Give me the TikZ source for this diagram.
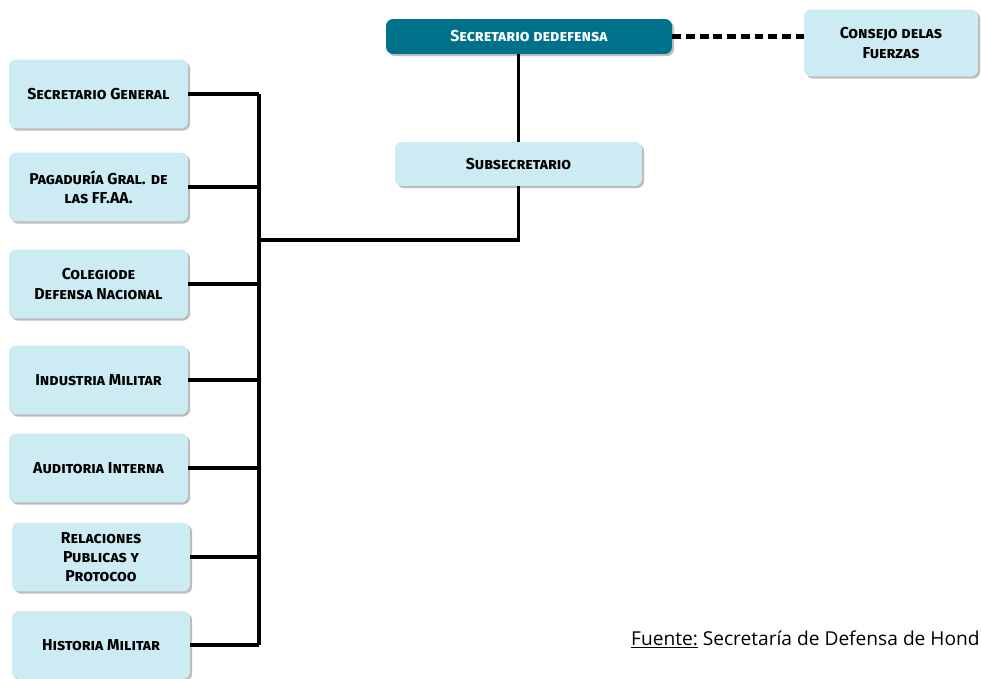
\documentclass[tikz,border=0pt]{standalone}
\usepackage{fontspec}
\setsansfont{Fira Sans}
\newfontfamily\notafont{Open Sans}
\usetikzlibrary{shadows}
\definecolor{celeste}{HTML}{CDEBF2}
\definecolor{petroleo}{HTML}{00718A}
\definecolor{sombra}{HTML}{BDBDBD}
\tikzset{every picture/.style={/utils/exec={\sffamily}}}
\tikzset{
	unidad/.style={fill=celeste, rounded corners=4pt, align=center,
		font=\fontsize{9}{11}\selectfont\bfseries\scshape,
		drop shadow={shadow xshift=1.2pt, shadow yshift=-1.2pt, fill=sombra, opacity=1}},
	jefe/.style={unidad, fill=petroleo, text=white},
	linea/.style={line width=2pt},
	enlace/.style={line width=2.4pt, dash pattern=on 5pt off 2.8pt}
}

\begin{document}
\begin{tikzpicture}[x=0.02cm, y=-0.02cm]
		\useasboundingbox (0,0) rectangle (981,679);

		% mando superior
		\node[jefe, minimum width=5.72cm, minimum height=0.7cm] (secdef) at (529,36.5) {Secretario dedefensa};
		\node[unidad, minimum width=3.48cm, minimum height=1.34cm] (consejo) at (891,43) {Consejo delas\\Fuerzas};
		\node[unidad, minimum width=4.94cm, minimum height=0.88cm] (subsec) at (518.5,164) {Subsecretario};

		% dependencias
		\node[unidad, minimum width=3.58cm, minimum height=1.38cm] (secgen) at (98.5,94) {Secretario General};
		\node[unidad, minimum width=3.58cm, minimum height=1.38cm] (pagaduria) at (98.5,187) {Pagaduría Gral. de\\las FF.AA.};
		\node[unidad, minimum width=3.58cm, minimum height=1.38cm] (colegio) at (98.5,284) {Colegiode\\Defensa Nacional};
		\node[unidad, minimum width=3.58cm, minimum height=1.38cm] (industria) at (98.5,380) {Industria Militar};
		\node[unidad, minimum width=3.58cm, minimum height=1.38cm] (auditoria) at (98.5,468) {Auditoria Interna};
		\node[unidad, minimum width=3.56cm, minimum height=1.38cm] (relaciones) at (101,557) {Relaciones\\Publicas y\\Protocoo};
		\node[unidad, minimum width=3.56cm, minimum height=1.36cm] (historia) at (101,645) {Historia Militar};

		\coordinate (bus) at (259,0);
		\coordinate (codo) at (259,240);

		% conexiones
		\draw[enlace] (secdef.east) -- (consejo.west |- secdef.east);
		\draw[linea] (subsec.north) -- (subsec.north |- secdef.south);
		\draw[linea] (subsec.south) |- (codo);
		\draw[linea] (secgen.east -| bus) -- (historia.east -| bus);
		\foreach \u in {secgen, pagaduria, colegio, industria, auditoria, relaciones, historia}
			\draw[linea] (\u.east) -- (\u.east -| bus);

		\node[anchor=base east, inner sep=0pt, font=\notafont\fontsize{10.9}{13}\selectfont] (fuente) at (980,645) {\underline{Fuente:} Secretaría de Defensa de Hond};
	\end{tikzpicture}
\end{document}
